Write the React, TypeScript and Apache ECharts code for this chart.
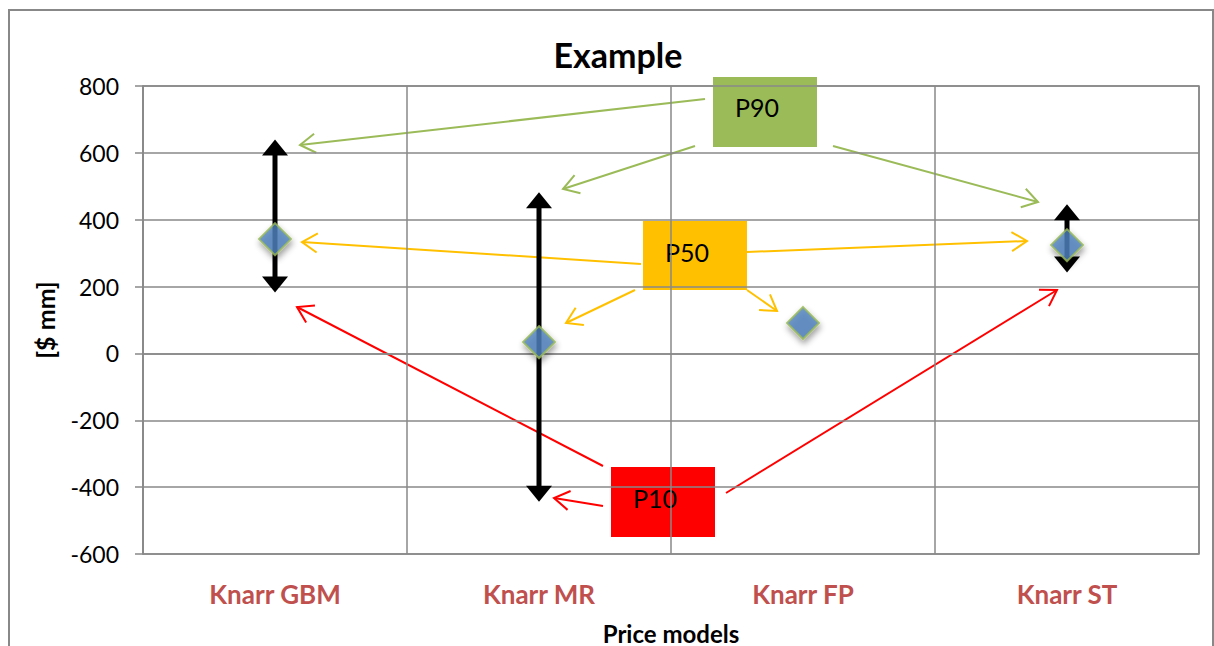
import React, { useEffect, useRef } from "react";
import * as echarts from "echarts";

const categories = ["Knarr GBM", "Knarr MR", "Knarr FP", "Knarr ST"];
const p50Values = [342, 34, 91, 324];
const p90Values: (number | null)[] = [640, 482, null, 446];
const p10Values: (number | null)[] = [182, -444, null, 242];
const yTicks = { min: -600, max: 800, interval: 200 };

const FONT = "Lato, 'Open Sans', sans-serif";

function arrow(x1: number, y1: number, x2: number, y2: number, color: string) {
  const dx = x1 - x2;
  const dy = y1 - y2;
  const len = Math.sqrt(dx * dx + dy * dy);
  const ux = dx / len;
  const uy = dy / len;
  const wing = 18;
  const ang = (32 * Math.PI) / 180;
  const c = Math.cos(ang);
  const s = Math.sin(ang);
  const w1 = [x2 + wing * (ux * c - uy * s), y2 + wing * (ux * s + uy * c)];
  const w2 = [x2 + wing * (ux * c + uy * s), y2 + wing * (-ux * s + uy * c)];
  return {
    type: "group",
    children: [
      { type: "line", shape: { x1, y1, x2, y2 }, style: { stroke: color, lineWidth: 2 } },
      {
        type: "polyline",
        shape: { points: [w1, [x2, y2], w2] },
        style: { stroke: color, lineWidth: 2, fill: null },
      },
    ],
  };
}

function box(x: number, y: number, w: number, h: number, color: string, label: string, tx: number, ty: number) {
  return {
    type: "group",
    children: [
      { type: "rect", shape: { x, y, width: w, height: h }, style: { fill: color } },
      {
        type: "text",
        x: tx,
        y: ty,
        style: { text: label, fill: "#000", font: `25px ${FONT}`, textVerticalAlign: "middle", textAlign: "left" },
      },
    ],
  };
}

export default function App() {
  const ref = useRef<HTMLDivElement>(null);
  useEffect(() => {
    if (!ref.current) return;
    const chart = echarts.init(ref.current, null, { renderer: "svg" });
    const green = "#9BBB59";
    const orange = "#FFC000";
    const red = "#FF0000";
    const barData = categories.map((_, i) => [i, p10Values[i], p90Values[i]]).filter((d) => d[1] !== null);
    chart.setOption({
      animation: false,
      backgroundColor: "#fff",
      title: {
        text: "Example",
        left: 613,
        textAlign: "center",
        top: 32,
        textStyle: { fontFamily: FONT, fontSize: 34, fontWeight: "bold", color: "#000" },
      },
      grid: {
        left: 143,
        top: 86,
        right: 15,
        bottom: 92,
        show: true,
        borderColor: "#888",
        borderWidth: 1.5,
        outerBoundsMode: "none",
        containLabel: false,
      },
      xAxis: {
        type: "category",
        data: categories,
        boundaryGap: true,
        name: "Price models",
        nameLocation: "middle",
        nameGap: 67,
        nameTextStyle: { fontFamily: FONT, fontSize: 24, fontWeight: "bold", color: "#000" },
        axisLine: { show: true, lineStyle: { color: "#888", width: 1.5 } },
        axisTick: { show: false },
        axisLabel: { fontFamily: FONT, fontSize: 26, fontWeight: "bold", color: "#C0504D", margin: 27 },
        splitLine: { show: true, lineStyle: { color: "#888", width: 1.5 } },
      },
      yAxis: {
        type: "value",
        min: yTicks.min,
        max: yTicks.max,
        interval: yTicks.interval,
        name: "[$ mm]",
        nameLocation: "middle",
        nameGap: 86,
        nameRotate: 90,
        nameTextStyle: { fontFamily: FONT, fontSize: 25, fontWeight: "bold", color: "#000" },
        axisLine: { show: true, lineStyle: { color: "#888", width: 1.5 } },
        axisTick: { show: true, length: 8, lineStyle: { color: "#888", width: 1.5 } },
        axisLabel: { fontFamily: FONT, fontSize: 23, color: "#000", margin: 24 },
        splitLine: { show: true, lineStyle: { color: "#888", width: 1.5 } },
      },
      series: [
        {
          type: "custom",
          data: barData,
          z: 2,
          renderItem: (params: any, api: any) => {
            const idx = api.value(0);
            const lo = api.coord([idx, api.value(1)]);
            const hi = api.coord([idx, api.value(2)]);
            const x = lo[0];
            const hw = 13;
            const ah = 16;
            return {
              type: "group",
              children: [
                {
                  type: "line",
                  shape: { x1: x, y1: hi[1] + ah - 1, x2: x, y2: lo[1] - ah + 1 },
                  style: { stroke: "#000", lineWidth: 5 },
                },
                {
                  type: "polygon",
                  shape: { points: [[x, hi[1]], [x - hw, hi[1] + ah], [x + hw, hi[1] + ah]] },
                  style: { fill: "#000" },
                },
                {
                  type: "polygon",
                  shape: { points: [[x, lo[1]], [x - hw, lo[1] - ah], [x + hw, lo[1] - ah]] },
                  style: { fill: "#000" },
                },
              ],
            };
          },
        },
        {
          type: "scatter",
          data: p50Values.map((v, i) => [i, v]),
          symbol: "diamond",
          symbolSize: [32, 32],
          z: 3,
          itemStyle: {
            color: "#4F81BD",
            borderColor: green,
            borderWidth: 2,
            shadowColor: "rgba(0,0,0,0.45)",
            shadowBlur: 6,
            shadowOffsetX: 1,
            shadowOffsetY: 4,
          },
        },
      ],
      graphic: [
        {
          type: "rect",
          shape: { x: 9, y: 10, width: 1204, height: 700 },
          style: { fill: null, stroke: "#888", lineWidth: 2 },
          z: 100,
        },
        arrow(705, 99, 300, 145, green),
        arrow(695, 146, 563, 189, green),
        arrow(833, 146, 1038, 202, green),
        arrow(641, 264, 302, 242, orange),
        arrow(747, 252, 1027, 241, orange),
        arrow(635, 290, 566, 323, orange),
        arrow(747, 290, 777, 311, orange),
        arrow(603, 466, 297, 307, red),
        arrow(603, 506, 554, 498, red),
        arrow(726, 493, 1057, 290, red),
        box(713, 77, 104, 70, green, "P90", 735, 107),
        box(643, 221, 104, 69, orange, "P50", 665, 252),
        box(611, 467, 104, 70, red, "P10", 633, 498),
      ],
    });
    return () => chart.dispose();
  }, []);
  return (
    <div
      ref={ref}
      style={{ position: "absolute", left: 0, top: 0, width: 1214, height: 646 }}
    />
  );
}
